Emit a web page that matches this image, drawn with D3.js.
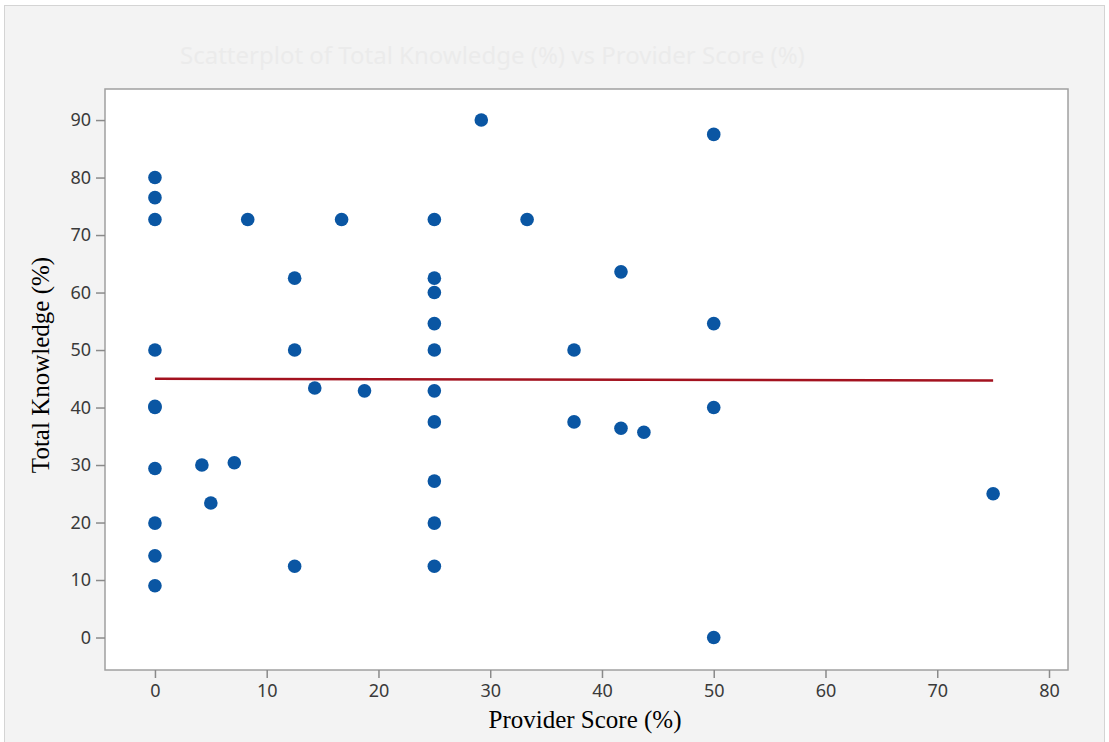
<!DOCTYPE html>
<html>
<head>
<meta charset="utf-8">
<script src="https://d3js.org/d3.v7.min.js"></script>
<style>
  body { margin: 0; background: #fff; }
  .tick text { font: 18px "Noto Sans", "Open Sans", sans-serif; fill: #3a3a3a; }
  .axis_title { font: 25px "Liberation Serif", "DejaVu Serif", serif; fill: #000; }
</style>
</head>
<body>
<svg width="1109" height="742"></svg>
<script>

// provider score (%) and total knowledge (%) for each respondent
var provider_score = [
  0, 0, 0, 0, 0, 0, 0, 0, 0, 0,
  4.2, 5, 7.1, 8.3,
  12.5, 12.5, 12.5, 14.3, 16.7, 18.75,
  25, 25, 25, 25, 25, 25, 25, 25, 25, 25,
  29.2, 33.3, 37.5, 37.5, 41.7, 41.7, 43.75,
  50, 50, 50, 50, 75
];
var total_knowledge = [
  80, 76.5, 72.7, 50, 40, 40.2, 29.4, 19.9, 14.2, 9.0,
  30.0, 23.4, 30.4, 72.7,
  62.5, 50, 12.4, 43.4, 72.7, 42.9,
  72.7, 62.5, 60, 54.6, 50, 42.9, 37.5, 27.2, 19.9, 12.4,
  90, 72.7, 50, 37.5, 63.6, 36.4, 35.7,
  87.5, 54.6, 40, 0, 25
];

// fitted line end points
var fit_x = [0, 75];
var fit_y = [45.0, 44.7];

var x_ticks = [0, 10, 20, 30, 40, 50, 60, 70, 80];
var y_ticks = [0, 10, 20, 30, 40, 50, 60, 70, 80, 90];

var svg = d3.select("svg");

// outer panel
svg.append("rect")
    .attr("x", 4.5).attr("y", 5.5)
    .attr("width", 1100).attr("height", 745)
    .attr("fill", "#f3f3f3")
    .attr("stroke", "#d4d4d4");

// ghosted title behind the graph
svg.append("text")
    .attr("x", 180).attr("y", 64)
    .style("font", "24px 'Noto Sans', sans-serif")
    .attr("fill", "#ebebeb")
    .text("Scatterplot of Total Knowledge (%) vs Provider Score (%)");

var plot = {left: 105, top: 89, right: 1068, bottom: 670};

var x = d3.scaleLinear()
    .domain([-4.47, 81.7])
    .range([plot.left, plot.right]);

var y = d3.scaleLinear()
    .domain([-5.65, 95.4])
    .range([plot.bottom, plot.top]);

svg.append("rect")
    .attr("x", plot.left).attr("y", plot.top)
    .attr("width", plot.right - plot.left)
    .attr("height", plot.bottom - plot.top)
    .attr("fill", "#fff")
    .attr("stroke", "#a0a0a0")
    .attr("stroke-width", 1.5);

var x_axis = svg.append("g")
    .attr("transform", "translate(0," + plot.bottom + ")")
    .call(d3.axisBottom(x).tickValues(x_ticks).tickSize(8).tickPadding(6));
x_axis.select(".domain").remove();
x_axis.selectAll(".tick line").attr("stroke", "#8a8a8a").attr("stroke-width", 1.5);

var y_axis = svg.append("g")
    .attr("transform", "translate(" + plot.left + ",0)")
    .call(d3.axisLeft(y).tickValues(y_ticks).tickSize(9).tickPadding(5));
y_axis.select(".domain").remove();
y_axis.selectAll(".tick line").attr("stroke", "#8a8a8a").attr("stroke-width", 1.5);

svg.append("text")
    .attr("class", "axis_title")
    .attr("x", 585).attr("y", 728)
    .attr("text-anchor", "middle")
    .text("Provider Score (%)");

svg.append("text")
    .attr("class", "axis_title")
    .attr("transform", "translate(49,365) rotate(-90)")
    .attr("text-anchor", "middle")
    .text("Total Knowledge (%)");

var line = d3.line()
    .x(function(d, i) { return x(fit_x[i]); })
    .y(function(d) { return y(d); });

svg.append("path")
    .datum(fit_y)
    .attr("fill", "none")
    .attr("stroke", "#a3121f")
    .attr("stroke-width", 2.6)
    .attr("d", line);

svg.append("g")
  .selectAll("circle")
  .data(provider_score)
  .enter().append("circle")
    .attr("cx", function(d) { return x(d); })
    .attr("cy", function(d, i) { return y(total_knowledge[i]); })
    .attr("r", 6.8)
    .attr("fill", "#0a56a3");

</script>
</body>
</html>
